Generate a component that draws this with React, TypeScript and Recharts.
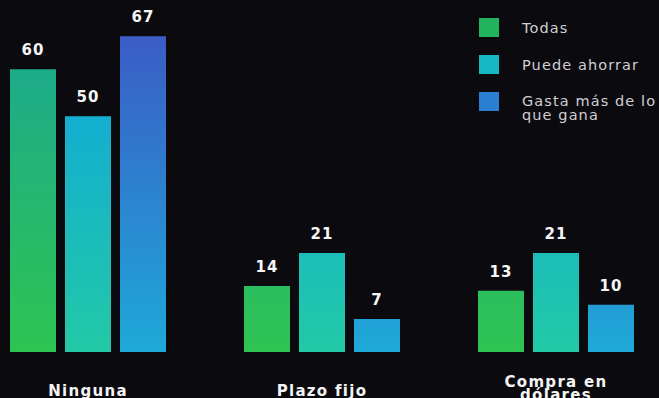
import React from "react";
import { BarChart, Bar, XAxis, YAxis, Legend, LabelList } from "recharts";

const categories = ["Ninguna", "Plazo fijo", "Compra en dólares"];
const tickLines = [["Ninguna"], ["Plazo fijo"], ["Compra en", "dólares"]];
const todas = [60, 14, 13];
const puedeAhorrar = [50, 21, 21];
const gastaMas = [67, 7, 10];

const seriesNames = ["Todas", "Puede ahorrar", "Gasta más de lo que gana"];
const legendLines = [["Todas"], ["Puede ahorrar"], ["Gasta más de lo", "que gana"]];
const legendColors = ["#22b35e", "#17b8c6", "#2a7fd2"];

const data = categories.map((name, i) => ({
  name,
  todas: todas[i],
  puede: puedeAhorrar[i],
  gasta: gastaMas[i],
}));

const FONT = "'DejaVu Sans', sans-serif";

function CategoryTick(props: any) {
  const { x, y, payload } = props;
  const idx = categories.indexOf(payload.value);
  const lines = tickLines[idx] || [payload.value];
  const first = lines.length > 1 ? 35 : 44;
  return (
    <text
      x={x}
      y={y}
      textAnchor="middle"
      fill="#f4f4f4"
      fontFamily={FONT}
      fontWeight="bold"
      fontSize={15}
      letterSpacing={1.3}
    >
      {lines.map((l, i) => (
        <tspan key={i} x={x} dy={i === 0 ? first : 13}>
          {l}
        </tspan>
      ))}
    </text>
  );
}

function ValueLabel(props: any) {
  const { x, y, width, value } = props;
  return (
    <text
      x={x + width / 2}
      y={y - 14}
      textAnchor="middle"
      fill="#f6f6f6"
      fontFamily={FONT}
      fontWeight="bold"
      fontSize={15}
      letterSpacing={1}
    >
      {value}
    </text>
  );
}

function LegendBox() {
  return (
    <div style={{ fontFamily: FONT, fontSize: 14.5, color: "#cfcfd2", letterSpacing: 1.1 }}>
      {seriesNames.map((s, i) => (
        <div key={s} style={{ display: "flex", alignItems: "flex-start", height: 37 }}>
          <div
            style={{
              width: 20,
              height: 19,
              background: legendColors[i],
              marginRight: 23,
              flexShrink: 0,
            }}
          />
          <div style={{ lineHeight: "14px", marginTop: legendLines[i].length > 1 ? 2 : 3, whiteSpace: "nowrap" }}>
            {legendLines[i].map((l, j) => (
              <div key={j}>{l}</div>
            ))}
          </div>
        </div>
      ))}
    </div>
  );
}

export default function App() {
  return (
    <div
      style={{
        position: "absolute",
        left: 0,
        top: 0,
        width: 659,
        height: 398,
        background: "#0b0a0f",
        overflow: "hidden",
      }}
    >
      <BarChart
        width={659}
        height={398}
        data={data}
        margin={{ top: 22, right: -14, left: -29, bottom: 16 }}
        barSize={46}
        barGap={9}
      >
        <defs>
          <linearGradient id="gTodas" gradientUnits="userSpaceOnUse" x1="0" y1="30" x2="0" y2="352">
            <stop offset="0%" stopColor="#1aa891" />
            <stop offset="100%" stopColor="#2ec452" />
          </linearGradient>
          <linearGradient id="gPuede" gradientUnits="userSpaceOnUse" x1="0" y1="30" x2="0" y2="352">
            <stop offset="0%" stopColor="#0fa4e0" />
            <stop offset="100%" stopColor="#22c9a6" />
          </linearGradient>
          <linearGradient id="gGasta" gradientUnits="userSpaceOnUse" x1="0" y1="30" x2="0" y2="352">
            <stop offset="0%" stopColor="#3b5bc6" />
            <stop offset="100%" stopColor="#1ea9d8" />
          </linearGradient>
        </defs>
        <XAxis
          dataKey="name"
          axisLine={false}
          tickLine={false}
          tickSize={0}
          tickMargin={0}
          height={30}
          interval={0}
          tick={<CategoryTick />}
        />
        <YAxis hide domain={[0, 70]} />
        <Legend
          layout="horizontal"
          align="center"
          verticalAlign="middle"
          wrapperStyle={{ top: 18, left: 479, width: 180, height: 120 }}
          content={() => <LegendBox />}
        />
        <Bar dataKey="todas" name={seriesNames[0]} fill="url(#gTodas)" isAnimationActive={false}>
          <LabelList dataKey="todas" content={<ValueLabel />} />
        </Bar>
        <Bar dataKey="puede" name={seriesNames[1]} fill="url(#gPuede)" isAnimationActive={false}>
          <LabelList dataKey="puede" content={<ValueLabel />} />
        </Bar>
        <Bar dataKey="gasta" name={seriesNames[2]} fill="url(#gGasta)" isAnimationActive={false}>
          <LabelList dataKey="gasta" content={<ValueLabel />} />
        </Bar>
      </BarChart>
    </div>
  );
}
